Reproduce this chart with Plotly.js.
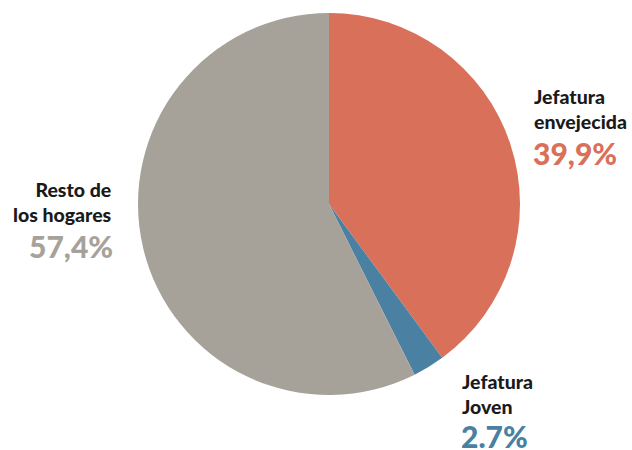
<!DOCTYPE html>
<html>
<head>
<meta charset="utf-8">
<script src="https://cdn.plot.ly/plotly-3.0.1.min.js"></script>
<style>html,body{margin:0;padding:0;background:#fff;}#chart{width:632px;height:450px;}</style>
</head>
<body>
<div id="chart"></div>
<script>
var labels = ["Jefatura envejecida", "Jefatura Joven", "Resto de los hogares"];
var values = [39.9, 2.7, 57.4];
var labelLines = ["Jefatura<br>envejecida", "Jefatura<br>Joven", "Resto de<br>los hogares"];
var pctText = ["39,9%", "2.7%", "57,4%"];
var colors = ["#D9715A", "#4A80A2", "#A6A29A"];

var W = 632, H = 450;
var cx = 329, cy = 204, r = 191;

var trace = {
  type: "pie",
  labels: labels,
  values: values,
  sort: false,
  direction: "clockwise",
  rotation: 0,
  textinfo: "none",
  hoverinfo: "label+percent",
  marker: {colors: colors, line: {width: 0}},
  domain: {x: [(cx - r) / W, (cx + r) / W], y: [1 - (cy + r) / H, 1 - (cy - r) / H]}
};

// label anchor positions (pixels)
var pos = [
  {x: 532, y: 109, xa: "left", dy: 44},
  {x: 460, y: 394, xa: "left", dy: 42},
  {x: 114, y: 202, xa: "right", dy: 44}
];
var annotations = [];
for (var i = 0; i < labels.length; i++) {
  annotations.push({
    xref: "paper", yref: "paper",
    x: pos[i].x / W, y: 1 - pos[i].y / H,
    xanchor: pos[i].xa, yanchor: "middle", align: pos[i].xa,
    showarrow: false,
    text: labelLines[i],
    font: {family: "Lato", size: 19.5, color: "#1a1a1a", weight: 900}
  });
  annotations.push({
    xref: "paper", yref: "paper",
    x: pos[i].x / W, y: 1 - (pos[i].y + pos[i].dy) / H,
    xanchor: pos[i].xa, yanchor: "middle", align: pos[i].xa,
    showarrow: false, borderpad: 0,
    text: pctText[i],
    font: {family: "Lato", size: 30, color: colors[i], weight: 900}
  });
}

var layout = {
  width: W, height: H,
  margin: {l: 0, r: 0, t: 0, b: 0},
  paper_bgcolor: "#ffffff",
  showlegend: false,
  annotations: annotations
};

Plotly.newPlot("chart", [trace], layout, {displayModeBar: false, staticPlot: true});
</script>
</body>
</html>
